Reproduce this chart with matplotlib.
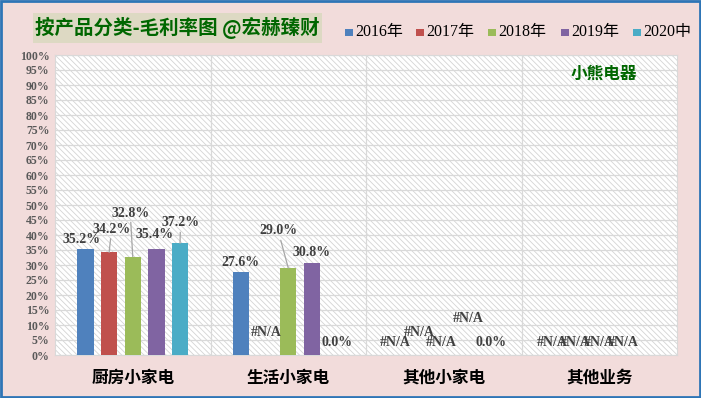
import numpy as np
import matplotlib
matplotlib.use("Agg")
import matplotlib.pyplot as plt
from matplotlib.patches import Rectangle

plt.rcParams['font.family'] = ['Liberation Serif', 'Noto Sans CJK SC', 'DejaVu Sans']
plt.rcParams['hatch.linewidth'] = 0.6

# ---------------- data ----------------
categories = ['厨房小家电', '生活小家电', '其他小家电', '其他业务']
series = ['2016年', '2017年', '2018年', '2019年', '2020中']
nan = np.nan
v2016 = [35.2, 27.6, nan, nan]
v2017 = [34.2, nan, nan, nan]
v2018 = [32.8, 29.0, nan, nan]
v2019 = [35.4, 30.8, nan, nan]
v2020 = [37.2, 0.0, 0.0, nan]
values = [v2016, v2017, v2018, v2019, v2020]
yticks = list(range(0, 101, 5))
annotation = '小熊电器'
title = '按产品分类-毛利率图 @宏赫臻财'

# ---------------- style / layout ----------------
colors = ['#4F81BD', '#C0504D', '#9BBB59', '#8064A2', '#4BACC6']
# label offsets (pixels, dx, dy-up) relative to (bar centre, bar top) ; key (series, category)
label_off = {
    (0, 0): (-4, 9.5), (1, 0): (2.5, 23), (2, 0): (-2.5, 43.6), (3, 0): (-2, 14), (4, 0): (0.5, 20.4),
    (0, 1): (-0.5, 10), (1, 1): (1.5, 22), (2, 1): (-10, 37), (3, 1): (-0.5, 9.6), (4, 1): (1, 12),
    (0, 2): (-1.5, 13), (1, 2): (-1, 23), (2, 2): (-2, 13), (3, 2): (0.5, 37), (4, 2): (0, 13),
    (0, 3): (0, 13), (1, 3): (0, 13), (2, 3): (0, 13), (3, 3): (0, 13),
}
leaders = {(1, 0), (2, 0), (4, 0), (2, 1)}

W, H, DPI = 701, 398, 100
fig = plt.figure(figsize=(W / DPI, H / DPI), dpi=DPI)
fig.patch.set_facecolor('#F2DCDB')

L, R, T, B = 55, 677, 55, 355
ax = fig.add_axes([L / W, (H - B) / H, (R - L) / W, (B - T) / H])
ax.set_facecolor('white')
ax.add_patch(Rectangle((0, 0), 1, 1, transform=ax.transAxes, facecolor='white',
                       edgecolor='#D4D4D4', hatch='\\\\\\\\\\\\', linewidth=0, zorder=0))
ax.set_xlim(-0.5, len(categories) - 0.5)
ax.set_ylim(0, 100)
ax.set_yticks(yticks)
ax.set_yticklabels([f'{t}%' for t in yticks], fontsize=8.5, fontweight='bold', color='#595959')
ax.tick_params(axis='y', length=0, pad=4)
ax.tick_params(axis='x', length=0, pad=10)
for t in yticks:
    ax.axhline(t, color='#D9D9D9', lw=0.9, zorder=1)
for b in np.arange(0.5, len(categories) - 0.5, 1):
    ax.axvline(b, color='#D9D9D9', lw=0.9, zorder=1)
for s in ax.spines.values():
    s.set_color('#D9D9D9')
ax.set_xticks(range(len(categories)))
ax.set_xticklabels(categories, fontsize=12, fontweight='bold', color='black',
                   family=['Noto Sans CJK SC'])

x = np.arange(len(categories))
step, bw = 0.152, 0.106
px2pt = 72 / DPI
for i, vals in enumerate(values):
    xs = x + (i - 2) * step
    hv = np.nan_to_num(np.array(vals, dtype=float))
    ax.bar(xs, hv, width=bw, color=colors[i], zorder=3)
    for j, v in enumerate(vals):
        if (i, j) not in label_off:
            continue
        dx, dy = label_off[(i, j)]
        txt = '#N/A' if np.isnan(v) else f'{v:.1f}%'
        base = 0 if np.isnan(v) else v
        arrow = dict(arrowstyle='-', color='#A6A6A6', lw=0.9, shrinkA=0, shrinkB=0) if (i, j) in leaders else None
        ax.annotate(txt, xy=(xs[j], base), xytext=(dx * px2pt, dy * px2pt),
                    textcoords='offset points', ha='center', va='center',
                    fontsize=10, fontweight='bold', color='#404040', zorder=5,
                    arrowprops=arrow)

fig.text(604 / W, 1 - 74 / H, annotation, ha='center', va='center',
         fontsize=12, fontweight='bold', color='#006600', family=['Noto Sans CJK SC'])

# title box
fig.patches.append(Rectangle((33 / W, 1 - 43 / H), (322 - 33) / W, 30 / H, transform=fig.transFigure,
                             facecolor='#DDD9C3', edgecolor='none', zorder=1))
fig.text(177 / W, 1 - 28 / H, title, ha='center', va='center', fontsize=14, fontweight='bold',
         color='#006600', family=['Noto Sans CJK SC'], zorder=2)

# legend
sq_x = [345, 416, 488, 561, 633]
for i, name in enumerate(series):
    fig.patches.append(Rectangle((sq_x[i] / W, 1 - 36 / H), 7.5 / W, 7.5 / H, transform=fig.transFigure,
                                 facecolor=colors[i], edgecolor='none'))
    fig.text((sq_x[i] + 10) / W, 1 - 32 / H, name, ha='left', va='center', fontsize=11.5, color='black')

# figure border
fig.patches.append(Rectangle((0.001, 0.002), 0.997, 0.995, transform=fig.transFigure, facecolor='none',
                             edgecolor='#2E75B6', lw=2))

fig.savefig('out.png', dpi=DPI, facecolor=fig.get_facecolor())
